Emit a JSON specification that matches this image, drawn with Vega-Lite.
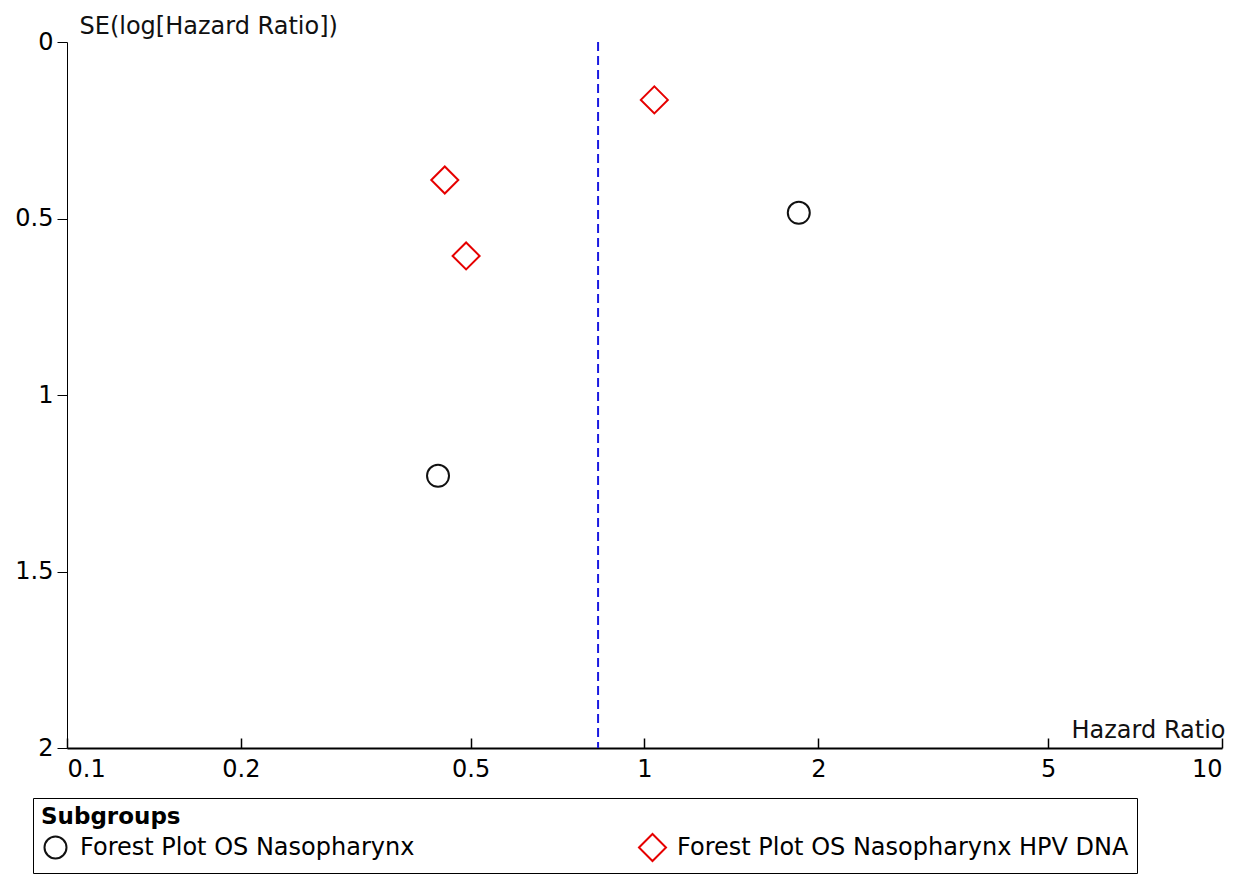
{
  "$schema": "https://vega.github.io/schema/vega-lite/v6.json",
  "width": 1155,
  "height": 706,
  "autosize": {"type": "none"},
  "padding": {"left": 67, "top": 42, "right": 33, "bottom": 126},
  "background": "white",
  "config": {
    "font": "DejaVu Sans",
    "view": {"stroke": null},
    "axis": {"grid": false, "ticks": true, "domainColor": "black", "tickColor": "black", "labelColor": "black", "titleColor": "#111111", "labelFontSize": 24, "titleFontSize": 24, "titleFontWeight": "normal"}
  },
  "datasets": {
    "studies": [
      {"hr": 1.85, "se": 0.484, "subgroup": "Forest Plot OS Nasopharynx"},
      {"hr": 0.439, "se": 1.229, "subgroup": "Forest Plot OS Nasopharynx"},
      {"hr": 1.04, "se": 0.164, "subgroup": "Forest Plot OS Nasopharynx HPV DNA"},
      {"hr": 0.451, "se": 0.391, "subgroup": "Forest Plot OS Nasopharynx HPV DNA"},
      {"hr": 0.491, "se": 0.606, "subgroup": "Forest Plot OS Nasopharynx HPV DNA"}
    ],
    "pooled": [{"hr": 0.831}]
  },
  "layer": [
    {
      "data": {"name": "studies"},
      "mark": {"type": "point", "filled": false, "strokeWidth": 2, "opacity": 1},
      "encoding": {
        "x": {
          "field": "hr", "type": "quantitative",
          "scale": {"type": "log", "domain": [0.1, 10], "nice": false},
          "axis": {
            "values": [0.1, 0.2, 0.5, 1, 2, 5, 10], "format": "~g",
            "ticks": true, "tickSize": -10, "tickWidth": 1.5, "tickColor": "black", "tickOpacity": 1,
            "domainWidth": 2, "labelPadding": 19,
            "title": "Hazard Ratio", "titleAngle": 0, "titleX": 1158, "titleY": -11,
            "titleAlign": "right", "titleBaseline": "alphabetic"
          }
        },
        "y": {
          "field": "se", "type": "quantitative",
          "scale": {"domain": [0, 2], "reverse": true, "nice": false, "zero": true},
          "axis": {
            "values": [0, 0.5, 1, 1.5, 2], "format": "~g",
            "tickSize": 10, "labelPadding": 4,
            "title": "SE(log[Hazard Ratio])", "titleAngle": 0, "titleX": 12, "titleY": -9,
            "titleAlign": "left", "titleBaseline": "alphabetic"
          }
        },
        "shape": {
          "field": "subgroup", "type": "nominal",
          "scale": {"domain": ["Forest Plot OS Nasopharynx", "Forest Plot OS Nasopharynx HPV DNA"], "range": ["circle", "diamond"]},
          "legend": {
            "title": "Subgroups", "orient": "none", "legendX": -34, "legendY": 756,
            "direction": "horizontal", "columns": 2, "columnPadding": 220,
            "titleFontWeight": "bold", "titleFontSize": 23, "titleColor": "black", "titlePadding": 4,
            "labelFontSize": 24, "labelColor": "black", "labelLimit": 0, "labelOffset": 10,
            "strokeColor": "black", "padding": 8, "symbolStrokeWidth": 2, "symbolSize": 560
          }
        },
        "color": {
          "field": "subgroup", "type": "nominal",
          "scale": {"domain": ["Forest Plot OS Nasopharynx", "Forest Plot OS Nasopharynx HPV DNA"], "range": ["#111111", "#e60000"]},
          "legend": {
            "title": "Subgroups", "orient": "none", "legendX": -34, "legendY": 756,
            "direction": "horizontal", "columns": 2, "columnPadding": 220,
            "titleFontWeight": "bold", "titleFontSize": 23, "titleColor": "black", "titlePadding": 4,
            "labelFontSize": 24, "labelColor": "black", "labelLimit": 0, "labelOffset": 10,
            "strokeColor": "black", "padding": 8, "symbolStrokeWidth": 2, "symbolSize": 560
          }
        },
        "size": {
          "field": "subgroup", "type": "nominal",
          "scale": {"domain": ["Forest Plot OS Nasopharynx", "Forest Plot OS Nasopharynx HPV DNA"], "range": [484, 729]},
          "legend": null
        }
      }
    },
    {
      "data": {"name": "pooled"},
      "mark": {"type": "rule", "color": "#1a1ae0", "strokeWidth": 2, "strokeDash": [9, 5]},
      "encoding": {
        "x": {"field": "hr", "type": "quantitative"}
      }
    }
  ]
}
